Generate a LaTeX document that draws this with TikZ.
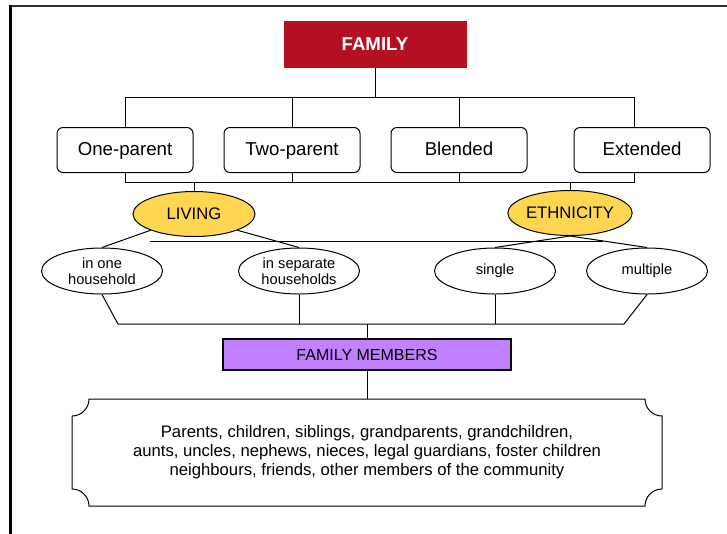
\documentclass[tikz,border=0pt]{standalone}
\usepackage{fontspec}
\setmainfont{Liberation Sans}
\usetikzlibrary{positioning, shapes.geometric, calc}

\definecolor{famred}{RGB}{180,16,34}
\definecolor{livgold}{RGB}{255,214,82}
\definecolor{memviolet}{RGB}{192,128,255}

\begin{document}
\begin{tikzpicture}[
        x=0.75pt, y=-0.75pt,
        node distance=22.5pt and 22.5pt,
        title/.style={rectangle, fill=famred, text=white, font=\fontsize{14}{16}\selectfont\bfseries, minimum width=137.25pt, minimum height=35.25pt},
        kind/.style={draw, rectangle, rounded corners=4.5pt, line width=0.75pt, minimum width=102pt, minimum height=33.75pt, text height=10.5pt, text depth=3pt, font=\fontsize{14}{16}\selectfont},
        aspect/.style={draw, ellipse, fill=livgold, line width=0.75pt, inner sep=0pt, minimum width=91.5pt, minimum height=33.75pt, font=\fontsize{12.5}{14}\selectfont},
        option/.style={draw, ellipse, line width=0.75pt, inner sep=0pt, minimum width=90.75pt, minimum height=34.5pt, align=center, font=\fontsize{11}{12}\selectfont},
        members/.style={draw, rectangle, fill=memviolet, line width=1.1pt, minimum width=216pt, minimum height=23.25pt, font=\fontsize{12}{14}\selectfont},
        plaque/.style={rectangle, outer sep=0pt, minimum width=442.5pt, minimum height=80.25pt, align=center, font=\fontsize{12.5}{14.25}\selectfont},
        link/.style={draw, line width=0.75pt}
    ]

    \useasboundingbox (0,0) rectangle (727,533);
    \clip (0,0) rectangle (727,533);
    \fill[white] (0,0) rectangle (727,533);

    \draw[line width=1.5pt, black!80] (10.5,560) |- (760,5.5);
    \draw[line width=2.4pt] (10.5,4.5) -- (10.5,560);

    \node[title] (fam) at (375,44.5) {FAMILY};

    \node[kind] (one) at (125,150) {One-parent};
    \node[kind, right=of one] (two) {Two-parent};
    \node[kind, right=of two] (blend) {Blended};
    \node[kind, right=34.5pt of blend] (ext) {Extended};

    \node[aspect] (liv) at (194,214) {LIVING};
    \node[aspect] (eth) at (570,213) {ETHNICITY};

    \node[option] (inone) at (102,271) {in one\\household};
    \node[option] (insep) at (299,271) {in separate\\households};
    \node[option] (single) at (495,271) {single};
    \node[option] (multi) at (647,271) {multiple};

    \node[members] (mem) at (367,354.5) {FAMILY MEMBERS};
    \node[plaque] (list) at (367,452.5) {Parents, children, siblings, grandparents, grandchildren,\\aunts, uncles, nephews, nieces, legal guardians, foster children\\neighbours, friends, other members of the community};

    \draw[link] ([xshift=-12.75pt]list.north east) arc[start angle=180, end angle=270, radius=12.75pt]
        -- ([yshift=12.75pt]list.south east) arc[start angle=90, end angle=180, radius=12.75pt]
        -- ([xshift=12.75pt]list.south west) arc[start angle=0, end angle=90, radius=12.75pt]
        -- ([yshift=-12.75pt]list.north west) arc[start angle=270, end angle=360, radius=12.75pt]
        -- cycle;

    \coordinate (topbar) at (375,97);
    \coordinate (midbar) at (194,182);
    \coordinate (strayL) at (150,241);
    \coordinate (strayR) at (603,241);
    \coordinate (lowL) at (118,324);
    \coordinate (lowR) at (624,324);
    \coordinate (lowbar) at (367,324);

    \draw[link] (fam) -- (topbar);
    \foreach \n in {one,two,blend}
        \draw[link] (topbar) -| (\n);
    \draw[link] (topbar) -| ([xshift=-6pt]ext.north);
    \foreach \n in {one,two,blend}
        \draw[link] (\n) |- (midbar);
    \draw[link] ([xshift=-6pt]ext.south) |- (midbar);
    \draw[link] (midbar) -- (liv);
    \draw[link] (eth) -- (eth |- midbar);

    \draw[link] (liv.south west) -- (inone.north);
    \draw[link] (liv.south east) -- (insep.north);
    \draw[link] (eth.south) -- (single.north);
    \draw[link] (eth.south) -- (multi.north);
    \draw[link] (strayL) -- (strayR);

    \draw[link] (inone.south) -- (lowL) -- (lowR) -- (multi.south);
    \draw[link] (insep.south) -- (insep.south |- lowbar);
    \draw[link] (single.south) -- (single.south |- lowbar);
    \draw[link] (lowbar) -- (mem);
    \draw[link] (mem) -- (list.north);

\end{tikzpicture}
\end{document}
